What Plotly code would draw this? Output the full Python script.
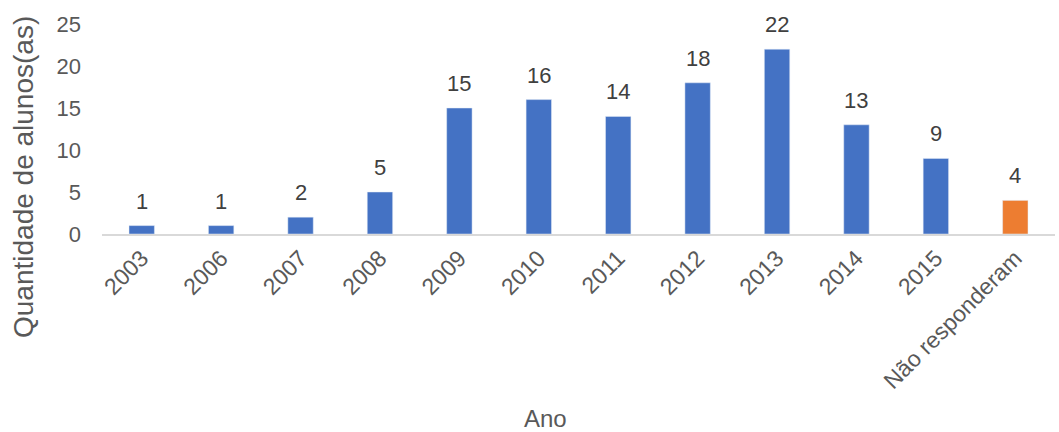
import plotly.graph_objects as go

categories = ["2003", "2006", "2007", "2008", "2009", "2010", "2011", "2012",
              "2013", "2014", "2015", "Não responderam"]
values = [1, 1, 2, 5, 15, 16, 14, 18, 22, 13, 9, 4]
colors = ["#4472C4"] * 11 + ["#ED7D31"]

fig = go.Figure(go.Bar(
    x=categories, y=values, marker_color=colors, hoverinfo="x+y",
))

# data labels (x given as category index so numeric-looking labels are not misread)
for i, v in enumerate(values):
    fig.add_annotation(x=i, y=v, xref="x", yref="y", text=str(v), showarrow=False,
                       yanchor="bottom", yshift=10,
                       font=dict(size=22, color="#404040"))

# axis titles
fig.add_annotation(text="Quantidade de alunos(as)", textangle=-90, showarrow=False,
                   xref="paper", yref="paper", x=-102/953 + 23/953, xanchor="center",
                   y=(234 - 177) / 210, yanchor="middle",
                   font=dict(size=28, color="#595959"))
fig.add_annotation(text="Ano", showarrow=False,
                   xref="paper", yref="paper", x=(545 - 102) / 953, xanchor="center",
                   y=-(418 - 234) / 210, yanchor="middle",
                   font=dict(size=24, color="#595959"))

fig.update_layout(
    width=1059, height=432,
    margin=dict(l=102, r=4, t=24, b=198),
    paper_bgcolor="white", plot_bgcolor="white",
    font=dict(family="Liberation Sans, Arial, sans-serif", color="#595959", size=22),
    bargap=0.68,
    showlegend=False,
    xaxis=dict(
        type="category", range=[-0.5, len(categories) - 0.5],
        tickangle=-45, showline=True, linecolor="#D9D9D9", linewidth=1.5,
        ticks="", tickfont=dict(size=23, color="#595959"),
    ),
    yaxis=dict(
        range=[0, 25], dtick=5, showgrid=False, zeroline=False,
        ticks="", tickfont=dict(size=22, color="#595959"), ticklabelstandoff=20,
    ),
)

fig.write_html("out.html")
